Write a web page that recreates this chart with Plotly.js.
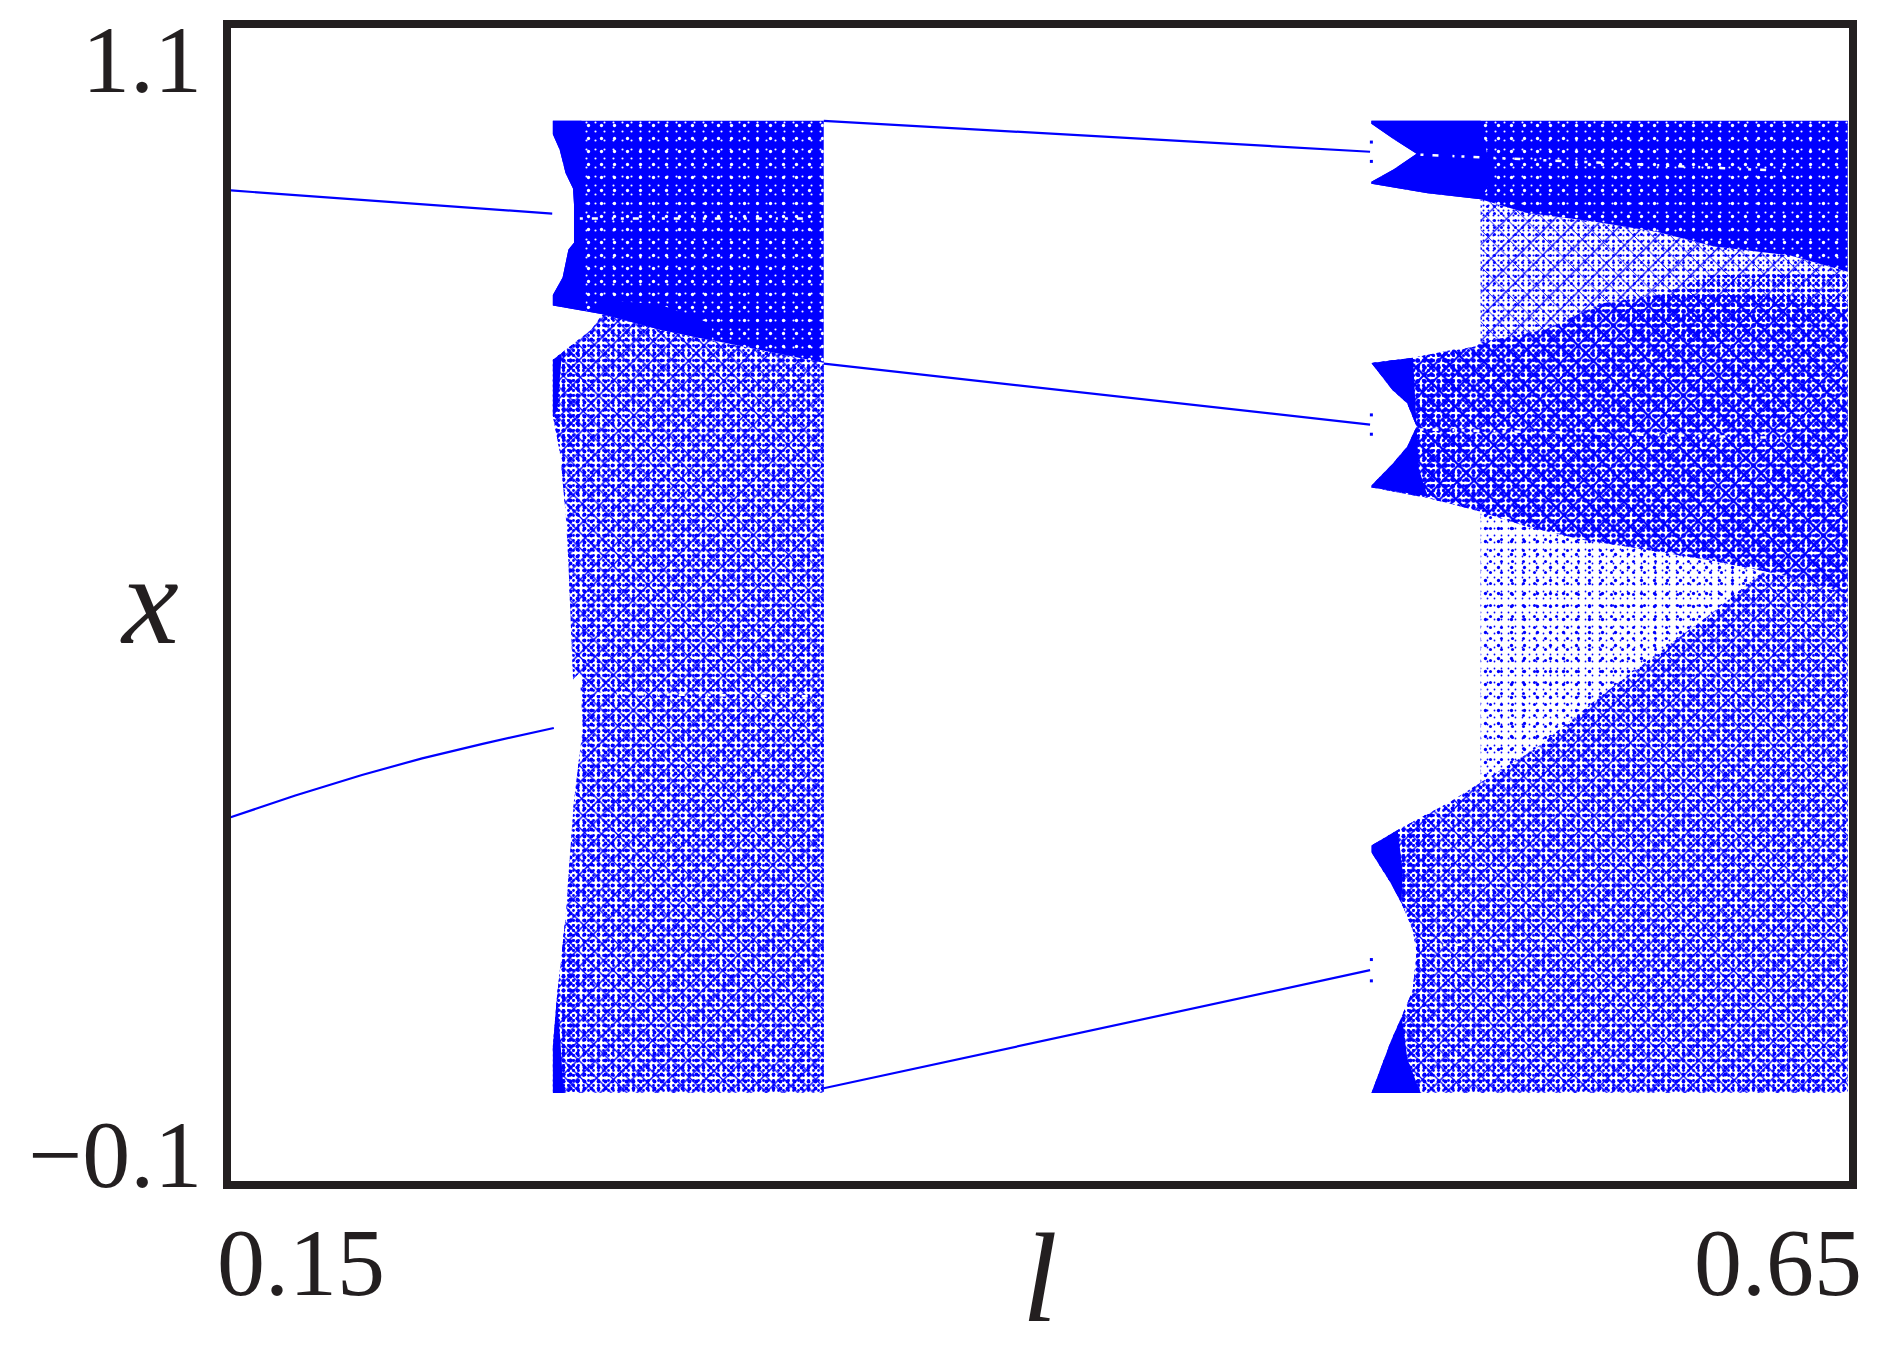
<!DOCTYPE html>
<html><head><meta charset="utf-8">
<script src="https://cdn.plot.ly/plotly-3.0.1.min.js"></script>
<style>html,body{margin:0;padding:0;background:#fff}#g{width:1891px;height:1350px}</style>
</head><body><div id="g"></div>
<script>
// ---- Stable branches (l, x)
const lineA1L=[0.1512,0.2000,0.2500]; const lineA1X=[0.928,0.916,0.904];
const lineA2L=[0.1507,0.1710,0.1915,0.2100,0.2286,0.2505]; const lineA2X=[0.2796,0.3025,0.3237,0.3410,0.3560,0.3723];
const lineB1L=[0.3335,0.5015]; const lineB1X=[1.000,0.968];
const lineB2L=[0.3335,0.5015]; const lineB2X=[0.749,0.686];
const lineB3L=[0.3335,0.5015]; const lineB3X=[0.000,0.122];
const endDotsL=[0.5019,0.5019,0.5019,0.5019,0.5019,0.5019];
const endDotsX=[0.978,0.958,0.696,0.676,0.133,0.111];
// ---- Chaotic bands: region outlines
const leftDenseL=[0.2502,0.2502,0.2523,0.2541,0.2564,0.2567,0.2580,0.2567,0.2550,0.2532,0.2502,0.2502,0.2603,0.2655,0.2832,0.2991,0.3185,0.3335,0.3335];
const leftDenseX=[1.000,0.986,0.970,0.946,0.930,0.914,0.895,0.874,0.867,0.838,0.820,0.809,0.803,0.800,0.784,0.773,0.760,0.750,1.000];
const leftSparseL=[0.2502,0.2564,0.2620,0.2655,0.2832,0.2991,0.3185,0.3335,0.3335,0.2502,0.2502,0.2514,0.2540,0.2567,0.2594,0.2585,0.2564,0.2550,0.2541,0.2523,0.2502];
const leftSparseX=[0.753,0.769,0.784,0.800,0.784,0.773,0.760,0.750,-0.005,-0.005,0.043,0.092,0.173,0.298,0.372,0.430,0.4225,0.5425,0.596,0.659,0.695];
const topLobeL=[0.5019,0.6484,0.6484,0.6305,0.6073,0.5899,0.5702,0.5494,0.5355,0.5192,0.5019,0.5019,0.5088,0.5158,0.5088,0.5019];
const topLobeX=[1.000,1.000,0.844,0.861,0.870,0.885,0.896,0.905,0.919,0.925,0.935,0.937,0.950,0.966,0.981,0.997];
const gapUpperL=[0.5355,0.5494,0.5702,0.5899,0.6073,0.6305,0.6484,0.6484,0.6189,0.5899,0.5726,0.5552,0.5355];
const gapUpperX=[0.919,0.905,0.896,0.885,0.870,0.861,0.844,0.811,0.820,0.820,0.811,0.784,0.771];
const midLobeL=[0.5019,0.5147,0.5343,0.5355,0.5552,0.5726,0.5899,0.6189,0.6484,0.6484,0.6305,0.6073,0.5841,0.5668,0.5494,0.5355,0.5192,0.5019,0.5019,0.5083,0.5129,0.5158,0.5129,0.5083];
const midLobeX=[0.7495,0.755,0.767,0.771,0.784,0.811,0.820,0.820,0.811,0.511,0.529,0.545,0.558,0.567,0.581,0.596,0.610,0.621,0.623,0.645,0.663,0.684,0.708,0.722];
const gapLowerL=[0.5355,0.5494,0.5668,0.5841,0.6073,0.6220,0.6073,0.5841,0.5726,0.5528,0.5355];
const gapLowerX=[0.596,0.581,0.567,0.558,0.545,0.533,0.493,0.435,0.406,0.352,0.316];
const lowLobeL=[0.5019,0.5100,0.5262,0.5355,0.5528,0.5726,0.5841,0.6073,0.6220,0.6305,0.6484,0.6484,0.5019,0.5077,0.5112,0.5146,0.5158,0.5146,0.5112,0.5077,0.5019];
const lowLobeX=[0.251,0.267,0.296,0.316,0.352,0.406,0.435,0.493,0.533,0.529,0.511,-0.005,-0.005,0.047,0.074,0.101,0.141,0.164,0.191,0.213,0.244];
// ---- Denser halos next to the saturated patches
const halos=[
 {l:[0.2502,0.2564,0.2600,0.2580,0.2523,0.2502],x:[0.753,0.769,0.760,0.660,0.659,0.695]},
 {l:[0.2502,0.2514,0.2540,0.2575,0.2585],x:[-0.005,0.092,0.173,0.180,-0.005]},
 {l:[0.5147,0.5280,0.5280,0.5192,0.5165],x:[0.755,0.764,0.610,0.610,0.684]},
 {l:[0.5100,0.5200,0.5200,0.5170,0.5112,0.5146,0.5158,0.5146,0.5112],x:[0.267,0.285,0.180,-0.005,0.074,0.101,0.141,0.164,0.191]},
 {l:[0.5740,0.6060,0.6484,0.6484,0.6300,0.6000],x:[0.800,0.840,0.844,0.800,0.790,0.770]}
];
// ---- Saturated patches
const solid=[
 {l:[0.2502,0.2502,0.2523,0.2541,0.2564,0.2567,0.2567,0.2550,0.2532,0.2502,0.2502,0.2603,0.2600,0.2600,0.2590],x:[1.000,0.986,0.970,0.946,0.930,0.914,0.874,0.867,0.838,0.820,0.809,0.803,0.870,0.930,1.000]},
 {l:[0.2603,0.2655,0.2832,0.2991,0.2991,0.2832,0.2655],x:[0.803,0.800,0.784,0.773,0.790,0.810,0.815]},
 {l:[0.2502,0.2530,0.2515,0.2502],x:[0.753,0.760,0.700,0.695]},
 {l:[0.2502,0.2502,0.2514,0.2525,0.2535],x:[-0.005,0.043,0.092,0.050,-0.005]},
 {l:[0.5019,0.5019,0.5088,0.5158,0.5088,0.5019,0.5019,0.5192,0.5355,0.5390,0.5355],x:[1.000,0.997,0.981,0.966,0.950,0.937,0.935,0.925,0.919,0.940,1.000]},
 {l:[0.5019,0.5147,0.5158,0.5129,0.5083],x:[0.7495,0.755,0.684,0.708,0.722]},
 {l:[0.5019,0.5083,0.5129,0.5158,0.5165,0.5192,0.5019],x:[0.623,0.645,0.663,0.684,0.640,0.612,0.621]},
 {l:[0.5019,0.5100,0.5115,0.5112,0.5077,0.5019],x:[0.251,0.267,0.225,0.191,0.213,0.244]},
 {l:[0.5019,0.5077,0.5112,0.5130,0.5170],x:[-0.005,0.047,0.074,0.030,-0.005]}
];
// ---- Pale periodic-window streaks
const streaks=[
 {l:[0.2585,0.3300],x:[0.899,0.899]},
 {l:[0.2600,0.3320],x:[0.408,0.405]},
 {l:[0.5170,0.5700,0.6300],x:[0.965,0.957,0.948]},
 {l:[0.5170,0.6305],x:[0.681,0.672]},
 {l:[0.5240,0.5600],x:[0.148,0.150]}
];
// ---- Labels
const xTickText=['0.15','0.65']; const yTickText=['1.1','\u22120.1'];
const xLabel='l'; const yLabel='x';

const BLUE='#0000ff', WHITE='#ffffff', INK='#231f20';
const dot=(size,solidity,color)=>({shape:'.',size,solidity,fgcolor:color});
const up=(size,solidity)=>({shape:'/',size,solidity,fgcolor:BLUE});
const down=(size,solidity)=>({shape:'\\',size,solidity,fgcolor:BLUE});
const whiteSpecks=[dot(9,0.045,WHITE),dot(13,0.05,WHITE)];
const halo=[dot(5,0.25,BLUE),dot(7,0.25,BLUE)];
const midTexture=[dot(5,0.30,BLUE),dot(7,0.34,BLUE),up(11,0.18),down(13,0.18)];
const lowTexture=[dot(5,0.24,BLUE),dot(7,0.24,BLUE),up(13,0.11),down(11,0.11)];
const paleTexture=[dot(5,0.13,BLUE),dot(7,0.15,BLUE),up(17,0.07),down(13,0.07)];
const faintTexture=[dot(7,0.05,BLUE),dot(11,0.06,BLUE),dot(13,0.05,BLUE)];

const traces=[];
const base={type:'scatter',mode:'lines',hoverinfo:'skip',showlegend:false};
function region(l,x,patterns,bg){
  if(bg) traces.push({...base,x:l,y:x,fill:'toself',fillcolor:bg,line:{width:0}});
  patterns.forEach(p=>traces.push({...base,x:l,y:x,fill:'toself',fillcolor:'rgba(0,0,0,0)',line:{width:0},
    fillpattern:{shape:p.shape,size:p.size,solidity:p.solidity,fgcolor:p.fgcolor,bgcolor:'rgba(0,0,0,0)',fillmode:'replace'}}));
}
region(leftSparseL,leftSparseX,lowTexture);
region(gapLowerL,gapLowerX,faintTexture);
region(lowLobeL,lowLobeX,lowTexture);
region(gapUpperL,gapUpperX,paleTexture);
region(midLobeL,midLobeX,midTexture);
halos.forEach(h=>region(h.l,h.x,halo));
region(leftDenseL,leftDenseX,whiteSpecks,BLUE);
region(topLobeL,topLobeX,whiteSpecks,BLUE);
solid.forEach(s=>region(s.l,s.x,[],BLUE));
streaks.forEach(s=>traces.push({...base,x:s.l,y:s.x,line:{color:WHITE,width:2.5,dash:'3px,9px,6px,14px,2px,7px'}}));
[[lineA1L,lineA1X],[lineA2L,lineA2X],[lineB1L,lineB1X],[lineB2L,lineB2X],[lineB3L,lineB3X]].forEach(a=>
  traces.push({...base,x:a[0],y:a[1],line:{color:BLUE,width:2.2,shape:'linear'}}));
traces.push({...base,mode:'markers',x:endDotsL,y:endDotsX,marker:{color:BLUE,size:3,symbol:'square'}});

const serif='"Liberation Serif",serif';
const note=(text,x,y,xanchor,size,italic)=>({text,x,y,xref:'paper',yref:'paper',xanchor,yanchor:'middle',showarrow:false,
  font:{family:serif,size,color:INK,style:italic?'italic':'normal'}});
// paper coords: plot area runs 231..1849 px across, 28..1181 px down
const px=X=>(X-231)/1618, py=Y=>(1181-Y)/1153;
const layout={width:1891,height:1350,margin:{l:231,r:42,t:28,b:169},paper_bgcolor:'#fff',plot_bgcolor:'#fff',
  xaxis:{range:[0.15123,0.64877],showgrid:false,zeroline:false,showticklabels:false,ticks:'',showline:true,mirror:true,linecolor:INK,linewidth:8,fixedrange:true},
  yaxis:{range:[-0.0959,1.0959],showgrid:false,zeroline:false,showticklabels:false,ticks:'',showline:true,mirror:true,linecolor:INK,linewidth:8,fixedrange:true},
  annotations:[
    note(xTickText[0],px(301),py(1262),'center',96),
    note(xTickText[1],px(1778),py(1262),'center',96),
    note(yTickText[0],px(204),py(60),'right',96),
    note(yTickText[1],px(204),py(1154),'right',96),
    note(xLabel,px(1040),py(1278),'center',128,true),
    note(yLabel,px(149),py(600),'center',128,true)
  ]};
Plotly.newPlot('g',traces,layout,{displayModeBar:false,staticPlot:true});
</script></body></html>
